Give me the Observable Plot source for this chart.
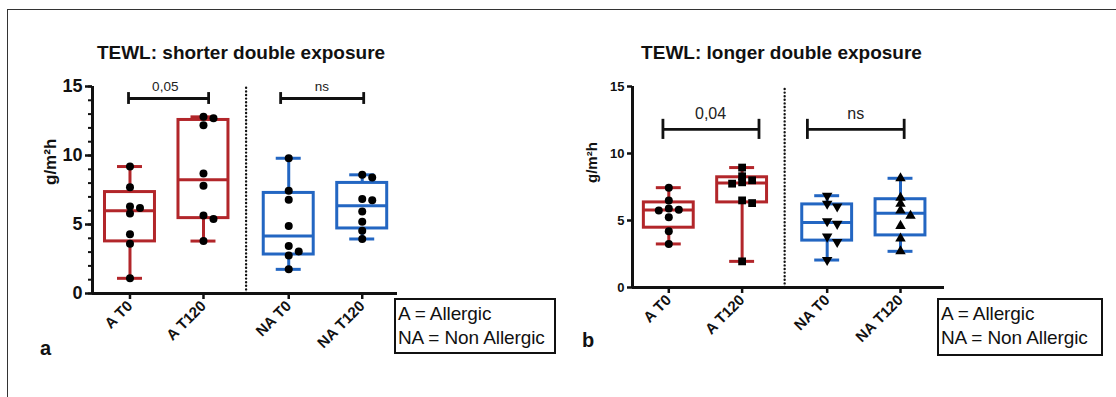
<!DOCTYPE html>
<html><head><meta charset="utf-8">
<script src="https://cdn.jsdelivr.net/npm/d3@7"></script>
<script src="https://cdn.jsdelivr.net/npm/@observablehq/plot@0.6"></script>
<style>
body{margin:0;background:#fff;font-family:"Liberation Sans",Arial,sans-serif;color:#111;}
#wrap{position:relative;width:1116px;height:397px;overflow:hidden;background:#fff;}
#wrap svg{position:absolute;left:0;top:0;background:transparent;}
.ftop{position:absolute;left:7px;top:9px;right:0;border-top:1.6px solid #333;}
.fleft{position:absolute;left:7px;top:9px;bottom:0;border-left:1.6px solid #333;}
.legend{position:absolute;border:2px solid #111;box-sizing:border-box;font-size:19px;line-height:24px;padding:2px 0 0 2px;background:#fff;white-space:nowrap;letter-spacing:-0.1px;}
.letter{position:absolute;font-weight:bold;font-size:20px;}
</style>
</head><body>
<div id="wrap">
  <div class="ftop"></div><div class="fleft"></div>
</div>
<script>
// ---- data ----
const groups = ["A T0", "A T120", "NA T0", "NA T120"];
const groupPos = [0, 1, 2.16, 3.16];
const groupColor = ["#b2262a", "#b2262a", "#2366c2", "#2366c2"];

// Panel a: TEWL shorter double exposure (g/m²h)
const shorterAT0    = [9.2, 7.7, 6.3, 6.2, 5.8, 4.3, 3.6, 1.1];
const shorterAT120  = [12.8, 12.7, 12.2, 8.7, 7.8, 5.65, 5.4, 3.8];
const shorterNAT0   = [9.8, 7.45, 6.8, 4.9, 3.45, 3.05, 2.75, 1.75];
const shorterNAT120 = [8.6, 8.4, 6.85, 6.75, 5.95, 5.2, 4.55, 3.95];

// Panel b: TEWL longer double exposure (g/m²h)
const longerAT0    = [7.45, 6.5, 5.9, 5.8, 5.75, 5.25, 4.2, 3.25];
const longerAT120  = [8.95, 8.3, 8.0, 7.85, 7.75, 6.5, 6.3, 1.95];
const longerNAT0   = [6.85, 6.25, 6.05, 4.95, 4.75, 3.8, 3.4, 2.05];
const longerNAT120 = [8.15, 6.7, 6.25, 5.75, 5.35, 4.6, 3.65, 2.7];

const yTicks = [0, 5, 10, 15];
const bracketsA = [{from: 0, to: 1, label: "0,05"}, {from: 2, to: 3, label: "ns"}];
const bracketsB = [{from: 0, to: 1, label: "0,04"}, {from: 2, to: 3, label: "ns"}];

// ---- helpers ----
function quart(sorted, p) {
  const n = sorted.length, h = p * (n + 1), lo = Math.floor(h);
  if (lo < 1) return sorted[0];
  if (lo >= n) return sorted[n - 1];
  return sorted[lo - 1] + (h - lo) * (sorted[lo] - sorted[lo - 1]);
}
function stats(series) {
  return series.map((vals, i) => {
    const s = [...vals].sort((a, b) => a - b);
    return {x: groupPos[i], color: groupColor[i], min: s[0], max: s[s.length - 1],
            q1: quart(s, 0.25), med: quart(s, 0.5), q3: quart(s, 0.75)};
  });
}
function points(series, pxPerUnit, thresh) {
  const out = [];
  series.forEach((vals, i) => {
    const placed = [];
    vals.forEach(v => {
      let off = 0;
      for (const c of [0, 5, -5, 10, -10]) {
        if (!placed.some(p => Math.abs(p.v - v) < thresh && Math.abs(p.c - c) < 6)) { off = c; break; }
      }
      placed.push({v, c: off});
      out.push({g: i, x: groupPos[i] + off / pxPerUnit, y: v});
    });
  });
  return out;
}
const labelMap = new Map(groupPos.map((p, i) => [p, groups[i]]));
const triangleDown = {
  draw(context, size) {
    const y = -Math.sqrt(size / (Math.sqrt(3) * 3));
    context.moveTo(0, -y * 2);
    context.lineTo(-Math.sqrt(3) * y, y);
    context.lineTo(Math.sqrt(3) * y, y);
    context.closePath();
  }
};

function boxMarks(st, sw) {
  const hw = 0.34, cw = 0.17;
  return [
    Plot.ruleX(st, {x: "x", y1: "min", y2: "q1", stroke: "color", strokeWidth: sw}),
    Plot.ruleX(st, {x: "x", y1: "q3", y2: "max", stroke: "color", strokeWidth: sw}),
    Plot.ruleY(st, {y: "min", x1: d => d.x - cw, x2: d => d.x + cw, stroke: "color", strokeWidth: sw}),
    Plot.ruleY(st, {y: "max", x1: d => d.x - cw, x2: d => d.x + cw, stroke: "color", strokeWidth: sw}),
    Plot.rect(st, {x1: d => d.x - hw, x2: d => d.x + hw, y1: "q1", y2: "q3", fill: "white", stroke: "color", strokeWidth: sw}),
    Plot.ruleY(st, {y: "med", x1: d => d.x - hw, x2: d => d.x + hw, stroke: "color", strokeWidth: sw})
  ];
}
function bracketMarks(br, y, cap, labelY, fontSize, offs) {
  const rows = br.map((b, i) => ({x1: groupPos[b.from] + offs[i][0], x2: groupPos[b.to] + offs[i][1], label: b.label, lx: offs[i][2]}));
  return [
    Plot.ruleY(rows, {y: () => y, x1: "x1", x2: "x2", stroke: "#111", strokeWidth: 2.8}),
    Plot.ruleX(rows, {x: "x1", y1: () => y - cap, y2: () => y + cap, stroke: "#111", strokeWidth: 2.8}),
    Plot.ruleX(rows, {x: "x2", y1: () => y - cap, y2: () => y + cap, stroke: "#111", strokeWidth: 2.8}),
    Plot.text(rows, {x: "lx", y: () => labelY, text: "label", fontSize, lineAnchor: "bottom", fill: "#222"})
  ];
}

const wrap = document.getElementById("wrap");
const FONT = "'Liberation Sans', Arial, sans-serif";

// ---- panel a ----
const seriesA = [shorterAT0, shorterAT120, shorterNAT0, shorterNAT120];
const stA = stats(seriesA);
const ptA = points(seriesA, 73.5, 0.45);
const xDomA = [-0.51, 3.64];
const plotA = Plot.plot({
  width: 1116, height: 397,
  marginLeft: 92, marginRight: 719, marginTop: 86, marginBottom: 104,
  x: {domain: xDomA}, y: {domain: [0, 15]},
  color: {type: "identity"},
  style: {fontFamily: FONT, color: "#111", background: "transparent"},
  marks: [
    Plot.ruleX([1.58], {y1: 0, y2: 15, stroke: "#111", strokeWidth: 2.4, strokeDasharray: "0,3.6", strokeLinecap: "round"}),
    ...boxMarks(stA, 3),
    Plot.dot(ptA, {x: "x", y: "y", r: 4, fill: "#000"}),
    ...bracketMarks(bracketsA, 14.13, 0.43, 14.7, 13.5, [[-0.02, 0.07, 0.48], [-0.11, 0.02, 2.61]]),
    Plot.ruleX([xDomA[0]], {y1: 0, y2: 15, strokeWidth: 3, stroke: "#111"}),
    Plot.ruleY([0], {x1: xDomA[0], x2: xDomA[1], strokeWidth: 3, stroke: "#111"}),
    Plot.axisY({ticks: d3.range(0, 16), tickSize: 4, tickFormat: () => "", strokeWidth: 2, label: null}),
    Plot.axisY({ticks: yTicks, tickSize: 7, tickPadding: 3, fontSize: 18, fontWeight: "bold", strokeWidth: 2.5, label: null}),
    Plot.axisX({ticks: groupPos, tickFormat: d => labelMap.get(d), tickRotate: -45, tickSize: 6, tickPadding: 4, fontSize: 15, fontWeight: "bold", strokeWidth: 2.5, label: null}),
    Plot.text(["g/m²h"], {frameAnchor: "left", dx: -42, dy: -5, rotate: -90, fontSize: 17, fontWeight: "bold"}),
    Plot.text(["TEWL: shorter double exposure"], {frameAnchor: "top", lineAnchor: "bottom", dx: -4, dy: -28, fontSize: 19, fontWeight: "bold"})
  ]
});
wrap.appendChild(plotA);

// ---- panel b ----
const seriesB = [longerAT0, longerAT120, longerNAT0, longerNAT120];
const stB = stats(seriesB);
const ptB = points(seriesB, 73.3, 0.45);
const xDomB = [-0.495, 3.76];
const symbolsB = ["circle", "square", triangleDown, "triangle"];
const sizesB = [4, 4.4, 3.9, 3.9];
const plotB = Plot.plot({
  width: 1116, height: 397,
  marginLeft: 632, marginRight: 172, marginTop: 86, marginBottom: 110,
  x: {domain: xDomB}, y: {domain: [0, 15]},
  color: {type: "identity"},
  style: {fontFamily: FONT, color: "#111", background: "transparent"},
  marks: [
    Plot.ruleX([1.58], {y1: 0, y2: 15, stroke: "#111", strokeWidth: 2.4, strokeDasharray: "0,3.6", strokeLinecap: "round"}),
    ...boxMarks(stB, 3),
    ...groups.map((g, i) => Plot.dot(ptB.filter(d => d.g === i), {x: "x", y: "y", r: sizesB[i], symbol: symbolsB[i], fill: "#000", stroke: "none"})),
    ...bracketMarks(bracketsB, 11.8, 0.75, 12.6, 16, [[-0.08, 0.23, 0.57], [-0.27, 0.05, 2.55]]),
    Plot.ruleX([xDomB[0]], {y1: 0, y2: 15, strokeWidth: 3, stroke: "#111"}),
    Plot.ruleY([0], {x1: xDomB[0], x2: xDomB[1], strokeWidth: 3, stroke: "#111"}),
    Plot.axisY({ticks: yTicks, tickSize: 5, tickPadding: 3, fontSize: 13, fontWeight: "bold", strokeWidth: 2.5, label: null}),
    Plot.axisX({ticks: groupPos, tickFormat: d => labelMap.get(d), tickRotate: -45, tickSize: 6, tickPadding: 4, fontSize: 15, fontWeight: "bold", strokeWidth: 2.5, label: null}),
    Plot.text(["g/m²h"], {frameAnchor: "left", dx: -40, dy: -4, rotate: -90, fontSize: 15, fontWeight: "bold"}),
    Plot.text(["TEWL: longer double exposure"], {frameAnchor: "top", lineAnchor: "bottom", dx: -7, dy: -28, fontSize: 19, fontWeight: "bold"})
  ]
});
wrap.appendChild(plotB);

// ---- legends and panel letters ----
function addDiv(cls, css, html) {
  const d = document.createElement("div");
  d.className = cls; Object.assign(d.style, css); d.innerHTML = html; wrap.appendChild(d);
}
addDiv("legend", {left: "394px", top: "298px", width: "162px", height: "56px"}, "A = Allergic<br>NA = Non Allergic");
addDiv("legend", {left: "937px", top: "298px", width: "166px", height: "58px"}, "A = Allergic<br>NA = Non Allergic");
addDiv("letter", {left: "40px", top: "337px"}, "a");
addDiv("letter", {left: "582px", top: "329px"}, "b");
</script>
</body></html>
